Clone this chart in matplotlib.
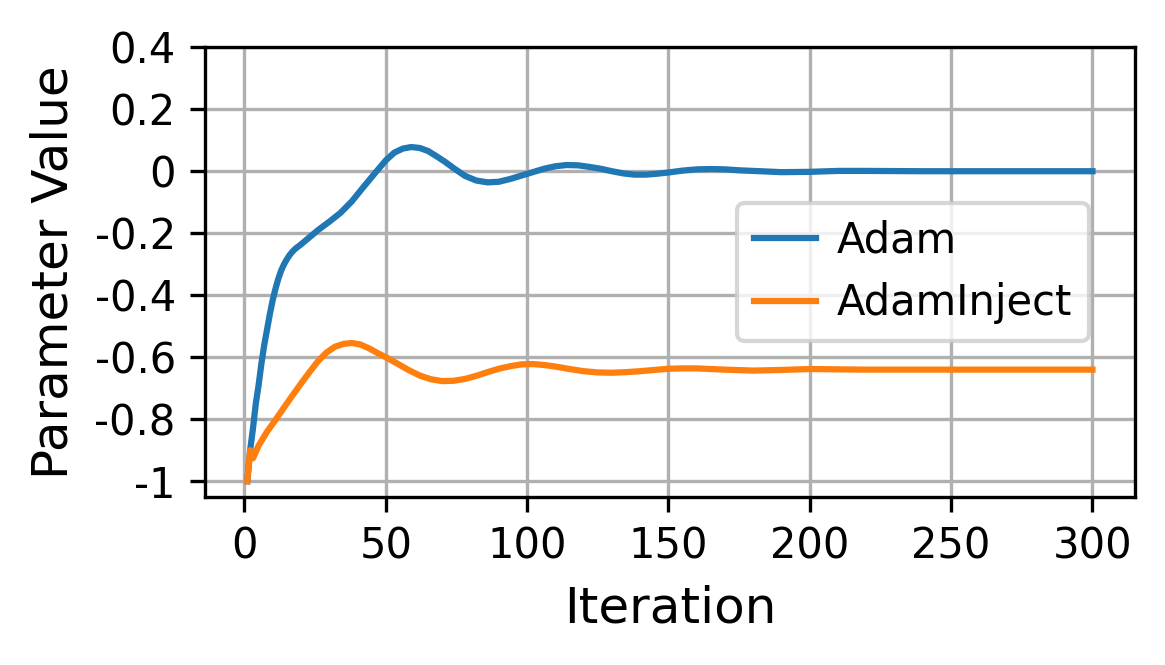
import matplotlib
matplotlib.use("Agg")
import matplotlib.pyplot as plt
from matplotlib.ticker import FuncFormatter

# Adam trajectory
adam_iter = [1, 2, 3, 4, 5, 6, 7, 8, 9, 10, 11, 12, 13, 14, 15, 16, 17, 18,
             19, 20, 23, 26, 30, 34, 38, 42, 46, 50, 53, 56, 59, 62, 65, 68,
             71, 74, 78, 82, 86, 90, 94, 98, 102, 106, 110, 114, 118, 122, 126,
             130, 134, 138, 142, 146, 150, 155, 160, 165, 170, 175, 180, 190,
             200, 210, 220, 240, 260, 280, 300]
adam_vals = [-1.0, -0.9, -0.83, -0.75, -0.69, -0.62, -0.56, -0.51, -0.46,
             -0.415, -0.378, -0.346, -0.32, -0.3, -0.284, -0.27, -0.259,
             -0.25, -0.243, -0.236, -0.213, -0.19, -0.163, -0.134, -0.097,
             -0.052, -0.008, 0.035, 0.06, 0.073, 0.078, 0.075, 0.065, 0.048,
             0.03, 0.01, -0.015, -0.03, -0.036, -0.034, -0.025, -0.014,
             -0.003, 0.008, 0.016, 0.02, 0.019, 0.014, 0.008, 0.0, -0.007,
             -0.011, -0.011, -0.008, -0.004, 0.002, 0.006, 0.007, 0.006,
             0.003, 0.001, -0.003, -0.002, 0.001, 0.001, 0.0, 0.0, 0.0, 0.0]

# AdamInject trajectory
inject_iter = [1, 2, 3, 5, 8, 11, 14, 17, 20, 23, 26, 29, 32, 35, 38, 41, 44,
               47, 50, 54, 58, 62, 66, 70, 74, 78, 82, 86, 90, 94, 98, 102,
               106, 110, 115, 120, 125, 130, 135, 140, 145, 150, 155, 160, 170,
               180, 190, 200, 220, 240, 260, 280, 300]
inject_vals = [-1.0, -0.9, -0.926, -0.885, -0.84, -0.802, -0.762, -0.723,
               -0.685, -0.648, -0.613, -0.585, -0.566, -0.557, -0.554, -0.559,
               -0.571, -0.586, -0.6, -0.62, -0.641, -0.659, -0.671, -0.677,
               -0.676, -0.67, -0.66, -0.648, -0.637, -0.629, -0.623, -0.622,
               -0.625, -0.63, -0.638, -0.645, -0.649, -0.65, -0.648, -0.645,
               -0.641, -0.637, -0.636, -0.636, -0.64, -0.643, -0.641, -0.638,
               -0.64, -0.64, -0.64, -0.64, -0.64]

fig = plt.figure(figsize=(1165 / 300, 665 / 300), dpi=300)
ax = fig.add_axes([0.176, 0.253, 0.798, 0.676])

ax.plot(adam_iter, adam_vals, color="#1f77b4", lw=1.5, label="Adam")
ax.plot(inject_iter, inject_vals, color="#ff7f0e", lw=1.5, label="AdamInject")

ax.set_ylim(-1.05, 0.4)
ax.set_yticks([0.4, 0.2, 0, -0.2, -0.4, -0.6, -0.8, -1])
ax.yaxis.set_major_formatter(FuncFormatter(lambda v, p: "%g" % round(v, 2)))
ax.set_xticks([0, 50, 100, 150, 200, 250, 300])
ax.grid(True)

ax.set_xlabel("Iteration", fontsize=12)
ax.set_ylabel("Parameter Value", fontsize=12)
ax.tick_params(labelsize=10)
ax.legend(loc="center right", fontsize=10, borderaxespad=1.1,
          handlelength=1.5, handletextpad=0.5)

fig.savefig("out.png", dpi=300)
